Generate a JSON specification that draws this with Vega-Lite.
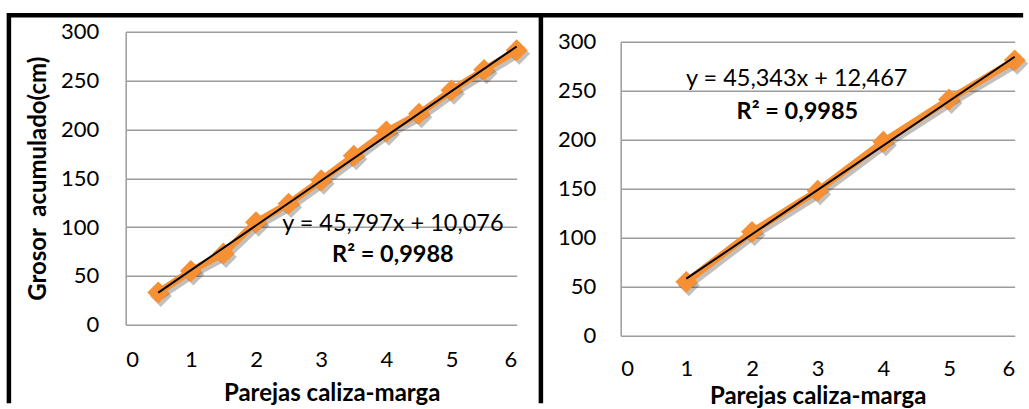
{
  "$schema": "https://vega.github.io/schema/vega-lite/v6.json",
  "background": "white",
  "padding": {"left": 5.7, "top": 9.75, "right": 0, "bottom": 0},
  "bounds": "flush",
  "spacing": 104,
  "config": {
    "view": {"stroke": null},
    "font": "Lato",
    "axis": {
      "labelFont": "Lato",
      "labelFontSize": 22,
      "labelColor": "#000000",
      "titleFont": "Lato",
      "titleFontSize": 24,
      "titleFontWeight": "bold",
      "titleColor": "#000000",
      "ticks": false,
      "tickSize": 0,
      "gridColor": "#9c9c9c",
      "gridWidth": 1.5,
      "domainColor": "#9c9c9c",
      "domainWidth": 1.5
    }
  },
  "datasets": {
    "izquierda": [
      {"parejas": 0.5, "grosor": 33},
      {"parejas": 1, "grosor": 55},
      {"parejas": 1.5, "grosor": 73},
      {"parejas": 2, "grosor": 105},
      {"parejas": 2.5, "grosor": 124},
      {"parejas": 3, "grosor": 148},
      {"parejas": 3.5, "grosor": 173},
      {"parejas": 4, "grosor": 198},
      {"parejas": 4.5, "grosor": 216},
      {"parejas": 5, "grosor": 240},
      {"parejas": 5.5, "grosor": 261},
      {"parejas": 6, "grosor": 281}
    ],
    "derecha": [
      {"parejas": 1, "grosor": 55},
      {"parejas": 2, "grosor": 106},
      {"parejas": 3, "grosor": 148},
      {"parejas": 4, "grosor": 198},
      {"parejas": 5, "grosor": 241},
      {"parejas": 6, "grosor": 281}
    ],
    "uno": [{}]
  },
  "hconcat": [
    {
      "width": 391,
      "height": 293,
      "data": {"name": "izquierda"},
      "layer": [
        {
          "mark": {"type": "line", "color": "#3a2a1a", "opacity": 0.3, "strokeWidth": 7, "xOffset": 2.5, "yOffset": 3.5},
          "encoding": {
            "x": {"field": "parejas", "type": "quantitative", "scale": {"domain": [0, 6], "nice": false, "zero": false},
                  "axis": {"values": [0, 1, 2, 3, 4, 5, 6], "format": "d", "grid": false, "domain": false, "labelPadding": 25, "title": "Parejas caliza-marga", "titlePadding": 11, "titleX": 206}},
            "y": {"field": "grosor", "type": "quantitative", "scale": {"domain": [0, 300], "nice": false},
                  "axis": {"values": [0, 50, 100, 150, 200, 250, 300], "labelPadding": 27, "title": "Grosor\u00a0\u00a0acumulado(cm)", "titlePadding": 10}}
          }
        },
        {
          "mark": {"type": "point", "shape": "diamond", "filled": true, "size": 480, "color": "#3a2a1a", "opacity": 0.3, "xOffset": 2.5, "yOffset": 3.5},
          "encoding": {
            "x": {"field": "parejas", "type": "quantitative"},
            "y": {"field": "grosor", "type": "quantitative"}
          }
        },
        {
          "mark": {"type": "line", "color": "#F79032", "strokeWidth": 7},
          "encoding": {
            "x": {"field": "parejas", "type": "quantitative"},
            "y": {"field": "grosor", "type": "quantitative"}
          }
        },
        {
          "mark": {"type": "point", "shape": "diamond", "filled": true, "size": 480, "color": "#F79032", "opacity": 1},
          "encoding": {
            "x": {"field": "parejas", "type": "quantitative"},
            "y": {"field": "grosor", "type": "quantitative"}
          }
        },
        {
          "transform": [{"regression": "grosor", "on": "parejas", "method": "linear", "extent": [0.5, 6]}],
          "mark": {"type": "line", "color": "#000000", "strokeWidth": 2},
          "encoding": {
            "x": {"field": "parejas", "type": "quantitative"},
            "y": {"field": "grosor", "type": "quantitative"}
          }
        },
        {
          "data": {"name": "uno"},
          "mark": {"type": "text", "text": "y = 45,797x + 10,076", "font": "Lato", "fontSize": 23.5, "color": "#000000", "align": "center", "baseline": "alphabetic"},
          "encoding": {"x": {"datum": 4.1, "type": "quantitative"}, "y": {"datum": 96.2, "type": "quantitative"}}
        },
        {
          "data": {"name": "uno"},
          "mark": {"type": "text", "text": "R² = 0,9988", "font": "Lato", "fontSize": 23.5, "fontWeight": "bold", "color": "#000000", "align": "center", "baseline": "alphabetic"},
          "encoding": {"x": {"datum": 4.1, "type": "quantitative"}, "y": {"datum": 64.2, "type": "quantitative"}}
        },
        {
          "data": {"name": "uno"},
          "mark": {"type": "rule", "color": "#000000", "strokeWidth": 4.5, "strokeCap": "butt"},
          "encoding": {"x": {"datum": -1.7923, "type": "quantitative"}, "y": {"datum": 319.2, "type": "quantitative"}, "y2": {"datum": -80.4}}
        },
        {
          "data": {"name": "uno"},
          "mark": {"type": "rule", "color": "#000000", "strokeWidth": 4.5, "strokeCap": "butt"},
          "encoding": {"x": {"datum": -1.7923, "type": "quantitative"}, "x2": {"datum": 13.772}, "y": {"datum": 316.9, "type": "quantitative"}}
        },
        {
          "data": {"name": "uno"},
          "mark": {"type": "rule", "color": "#000000", "strokeWidth": 4.5, "strokeCap": "butt"},
          "encoding": {"x": {"datum": 6.3714, "type": "quantitative"}, "y": {"datum": 316.9, "type": "quantitative"}, "y2": {"datum": -80.4}}
        }
      ]
    },
    {
      "width": 394,
      "height": 304,
      "data": {"name": "derecha"},
      "layer": [
        {
          "mark": {"type": "line", "color": "#3a2a1a", "opacity": 0.3, "strokeWidth": 7, "xOffset": 2.5, "yOffset": 3.5},
          "encoding": {
            "x": {"field": "parejas", "type": "quantitative", "scale": {"domain": [0, 6], "nice": false, "zero": false},
                  "axis": {"values": [0, 1, 2, 3, 4, 5, 6], "format": "d", "grid": false, "domain": false, "labelPadding": 23, "title": "Parejas caliza-marga", "titlePadding": 5}},
            "y": {"field": "grosor", "type": "quantitative", "scale": {"domain": [0, 300], "nice": false, "range": [304, 10]},
                  "axis": {"values": [0, 50, 100, 150, 200, 250, 300], "labelPadding": 25, "title": null}}
          }
        },
        {
          "mark": {"type": "point", "shape": "diamond", "filled": true, "size": 480, "color": "#3a2a1a", "opacity": 0.3, "xOffset": 2.5, "yOffset": 3.5},
          "encoding": {
            "x": {"field": "parejas", "type": "quantitative"},
            "y": {"field": "grosor", "type": "quantitative"}
          }
        },
        {
          "mark": {"type": "line", "color": "#F79032", "strokeWidth": 7},
          "encoding": {
            "x": {"field": "parejas", "type": "quantitative"},
            "y": {"field": "grosor", "type": "quantitative"}
          }
        },
        {
          "mark": {"type": "point", "shape": "diamond", "filled": true, "size": 480, "color": "#F79032", "opacity": 1},
          "encoding": {
            "x": {"field": "parejas", "type": "quantitative"},
            "y": {"field": "grosor", "type": "quantitative"}
          }
        },
        {
          "transform": [{"regression": "grosor", "on": "parejas", "method": "linear", "extent": [1, 6]}],
          "mark": {"type": "line", "color": "#000000", "strokeWidth": 2},
          "encoding": {
            "x": {"field": "parejas", "type": "quantitative"},
            "y": {"field": "grosor", "type": "quantitative"}
          }
        },
        {
          "data": {"name": "uno"},
          "mark": {"type": "text", "text": "y = 45,343x + 12,467", "font": "Lato", "fontSize": 23.5, "color": "#000000", "align": "center", "baseline": "alphabetic"},
          "encoding": {"x": {"datum": 2.68, "type": "quantitative"}, "y": {"datum": 254.8, "type": "quantitative"}}
        },
        {
          "data": {"name": "uno"},
          "mark": {"type": "text", "text": "R² = 0,9985", "font": "Lato", "fontSize": 23.5, "fontWeight": "bold", "color": "#000000", "align": "center", "baseline": "alphabetic"},
          "encoding": {"x": {"datum": 2.69, "type": "quantitative"}, "y": {"datum": 221.4, "type": "quantitative"}}
        }
      ]
    }
  ]
}
